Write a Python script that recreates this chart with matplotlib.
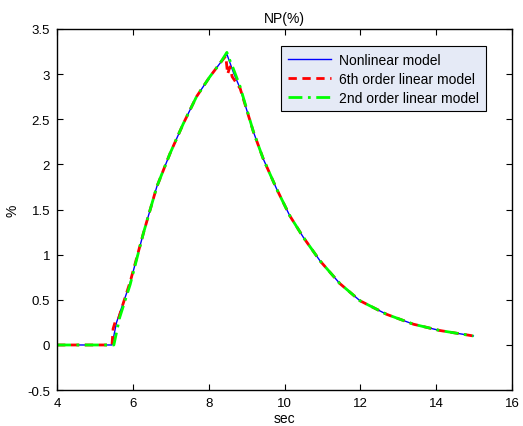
import matplotlib
matplotlib.use("Agg")
import matplotlib.pyplot as plt

plt.rcParams['font.family'] = ['Liberation Sans', 'DejaVu Sans']

# Nonlinear model
t_nl = [4.0, 5.45, 5.57, 5.93, 6.28, 6.63, 6.98, 7.33, 7.68, 8.03, 8.30, 8.48,
        8.65, 8.83, 9.18, 9.44, 9.79, 10.14, 10.50, 10.94, 11.46, 11.99, 12.69,
        13.40, 14.10, 14.98]
v_nl = [0.0, 0.0, 0.25, 0.69, 1.24, 1.75, 2.12, 2.45, 2.75, 2.97, 3.12, 3.22,
        3.02, 2.84, 2.36, 2.06, 1.73, 1.43, 1.19, 0.93, 0.68, 0.49, 0.34,
        0.23, 0.16, 0.10]

# 6th order linear model
t_6 = [4.0, 5.45, 5.48, 5.53, 5.60, 5.70, 5.93, 6.28, 6.63, 6.98, 7.33, 7.68,
       8.03, 8.30, 8.45, 8.50, 8.56, 8.62, 8.70, 8.83, 9.18, 9.44, 9.79, 10.14,
       10.50, 10.94, 11.46, 11.99, 12.69, 13.40, 14.10, 14.98]
v_6 = [0.0, 0.0, 0.18, 0.25, 0.26, 0.40, 0.70, 1.24, 1.75, 2.12, 2.45, 2.75,
       2.97, 3.12, 3.20, 3.00, 3.08, 2.97, 2.92, 2.84, 2.36, 2.06, 1.73, 1.43,
       1.19, 0.93, 0.68, 0.49, 0.34, 0.23, 0.16, 0.10]

# 2nd order linear model
t_2 = [4.0, 5.50, 5.55, 5.65, 5.93, 6.28, 6.63, 6.98, 7.33, 7.68, 8.03, 8.30,
       8.48, 8.55, 8.65, 8.83, 9.18, 9.44, 9.79, 10.14, 10.50, 10.94, 11.46,
       11.99, 12.69, 13.40, 14.10, 14.98]
v_2 = [0.0, 0.0, 0.10, 0.30, 0.67, 1.24, 1.75, 2.12, 2.45, 2.75, 2.97, 3.12,
       3.24, 3.16, 3.06, 2.86, 2.36, 2.06, 1.73, 1.43, 1.19, 0.93, 0.68,
       0.49, 0.34, 0.23, 0.16, 0.10]

labels = ["Nonlinear model", "6th order linear model", "2nd order linear model"]

fig = plt.figure(figsize=(5.23, 4.27), dpi=100)
ax = fig.add_axes([0.109, 0.084, 0.870, 0.846])

ax.plot(t_nl, v_nl, color='#0000ff', lw=1.0, label=labels[0])
ax.plot(t_6, v_6, color='#ff0000', lw=2.0, ls=(0, (3, 2)), label=labels[1])
ax.plot(t_2, v_2, color='#00ff00', lw=2.0, ls=(0, (5, 2, 1, 2)), label=labels[2])

ax.set_xlim(4, 16)
ax.set_ylim(-0.5, 3.5)
ax.set_xticks([4, 6, 8, 10, 12, 14, 16])
ax.set_yticks([-0.5, 0, 0.5, 1, 1.5, 2, 2.5, 3, 3.5])
ax.set_yticklabels(['-0.5', '0', '0.5', '1', '1.5', '2', '2.5', '3', '3.5'])
ax.tick_params(direction='in', top=True, right=True, labelsize=9.5, length=4,
               width=0.8, pad=5)
for s in ax.spines.values():
    s.set_linewidth(1.0)

ax.set_title('NP(%)', fontsize=10, pad=5)
ax.set_xlabel('sec', fontsize=10)
ax.set_ylabel('%', fontsize=10)
ax.xaxis.set_label_coords(0.5, -0.058)
ax.yaxis.set_label_coords(-0.083, 0.5)

leg = ax.legend(loc='upper right', bbox_to_anchor=(0.943, 0.953), fontsize=10,
                frameon=True, fancybox=False, edgecolor='black',
                facecolor='#e5eaf6', framealpha=1.0, handlelength=3.1,
                handletextpad=0.6, borderpad=0.5, labelspacing=0.35,
                borderaxespad=0)
leg.get_frame().set_linewidth(0.8)

fig.savefig('out.png', dpi=100)
